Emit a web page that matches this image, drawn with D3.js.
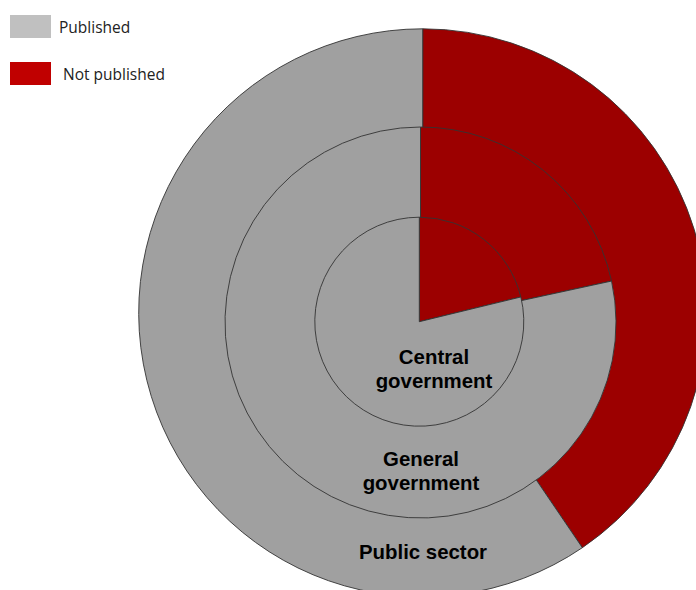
<!DOCTYPE html>
<html><head><meta charset="utf-8">
<script src="https://cdn.jsdelivr.net/npm/d3@7"></script>
<style>body{margin:0;background:#fff;overflow:hidden}</style>
</head><body><svg id="c" width="696" height="590"></svg>
<script>
const categories = ["Not published", "Published"];
const rings = ["Central government", "General government", "Public sector"];
const notPublished = [21.2, 21.6, 40.5];
const published = [78.8, 78.4, 59.5];
const legendLabels = ["Published", "Not published"];

const svg = d3.select("#c");
// each level is its own pie, stacked (outer drawn first)
const geom = [
  {cx: 419.3, cy: 321.7, r: 104.5},
  {cx: 420.5, cy: 322.5, r: 195.5},
  {cx: 422.7, cy: 312.8, r: 284}
];
const fill = d3.scaleOrdinal().domain(categories).range(["#9c0000", "#a0a0a0"]);
const pie = d3.pie().sort(null).value(d => d.v);

for (let i = rings.length - 1; i >= 0; i--) {
  const data = [{c: categories[0], v: notPublished[i]}, {c: categories[1], v: published[i]}];
  const arc = d3.arc().innerRadius(0).outerRadius(geom[i].r);
  const g = svg.append("g").attr("transform", `translate(${geom[i].cx},${geom[i].cy})`);
  g.selectAll(null).data(pie(data)).enter().append("path")
    .attr("d", arc).attr("fill", d => fill(d.data.c))
    .attr("stroke", "#333").attr("stroke-width", 0.9);
}

const labels = [
  {lines: ["Central", "government"], x: 434, y: 364},
  {lines: ["General", "government"], x: 421, y: 466},
  {lines: ["Public sector"], x: 423, y: 559}
];
labels.forEach(l => {
  const t = svg.append("text").attr("x", l.x).attr("y", l.y)
    .attr("text-anchor", "middle").attr("font-family", "Liberation Sans, Arial, sans-serif")
    .attr("font-weight", "bold").attr("font-size", 20.4).attr("fill", "#000");
  l.lines.forEach((s, k) => t.append("tspan").attr("x", l.x).attr("dy", k ? 24 : 0).text(s));
});

// legend
const leg = [{c: "#c0c0c0", y: 15, tx: 59}, {c: "#c00000", y: 62, tx: 63}];
legendLabels.forEach((s, k) => {
  svg.append("rect").attr("x", 10).attr("y", leg[k].y).attr("width", 41).attr("height", 23).attr("fill", leg[k].c);
  svg.append("text").attr("x", leg[k].tx).attr("y", leg[k].y + 18)
    .attr("font-family", "Open Sans, sans-serif").attr("font-size", 15.5).attr("fill", "#222").text(s);
});
</script></body></html>
